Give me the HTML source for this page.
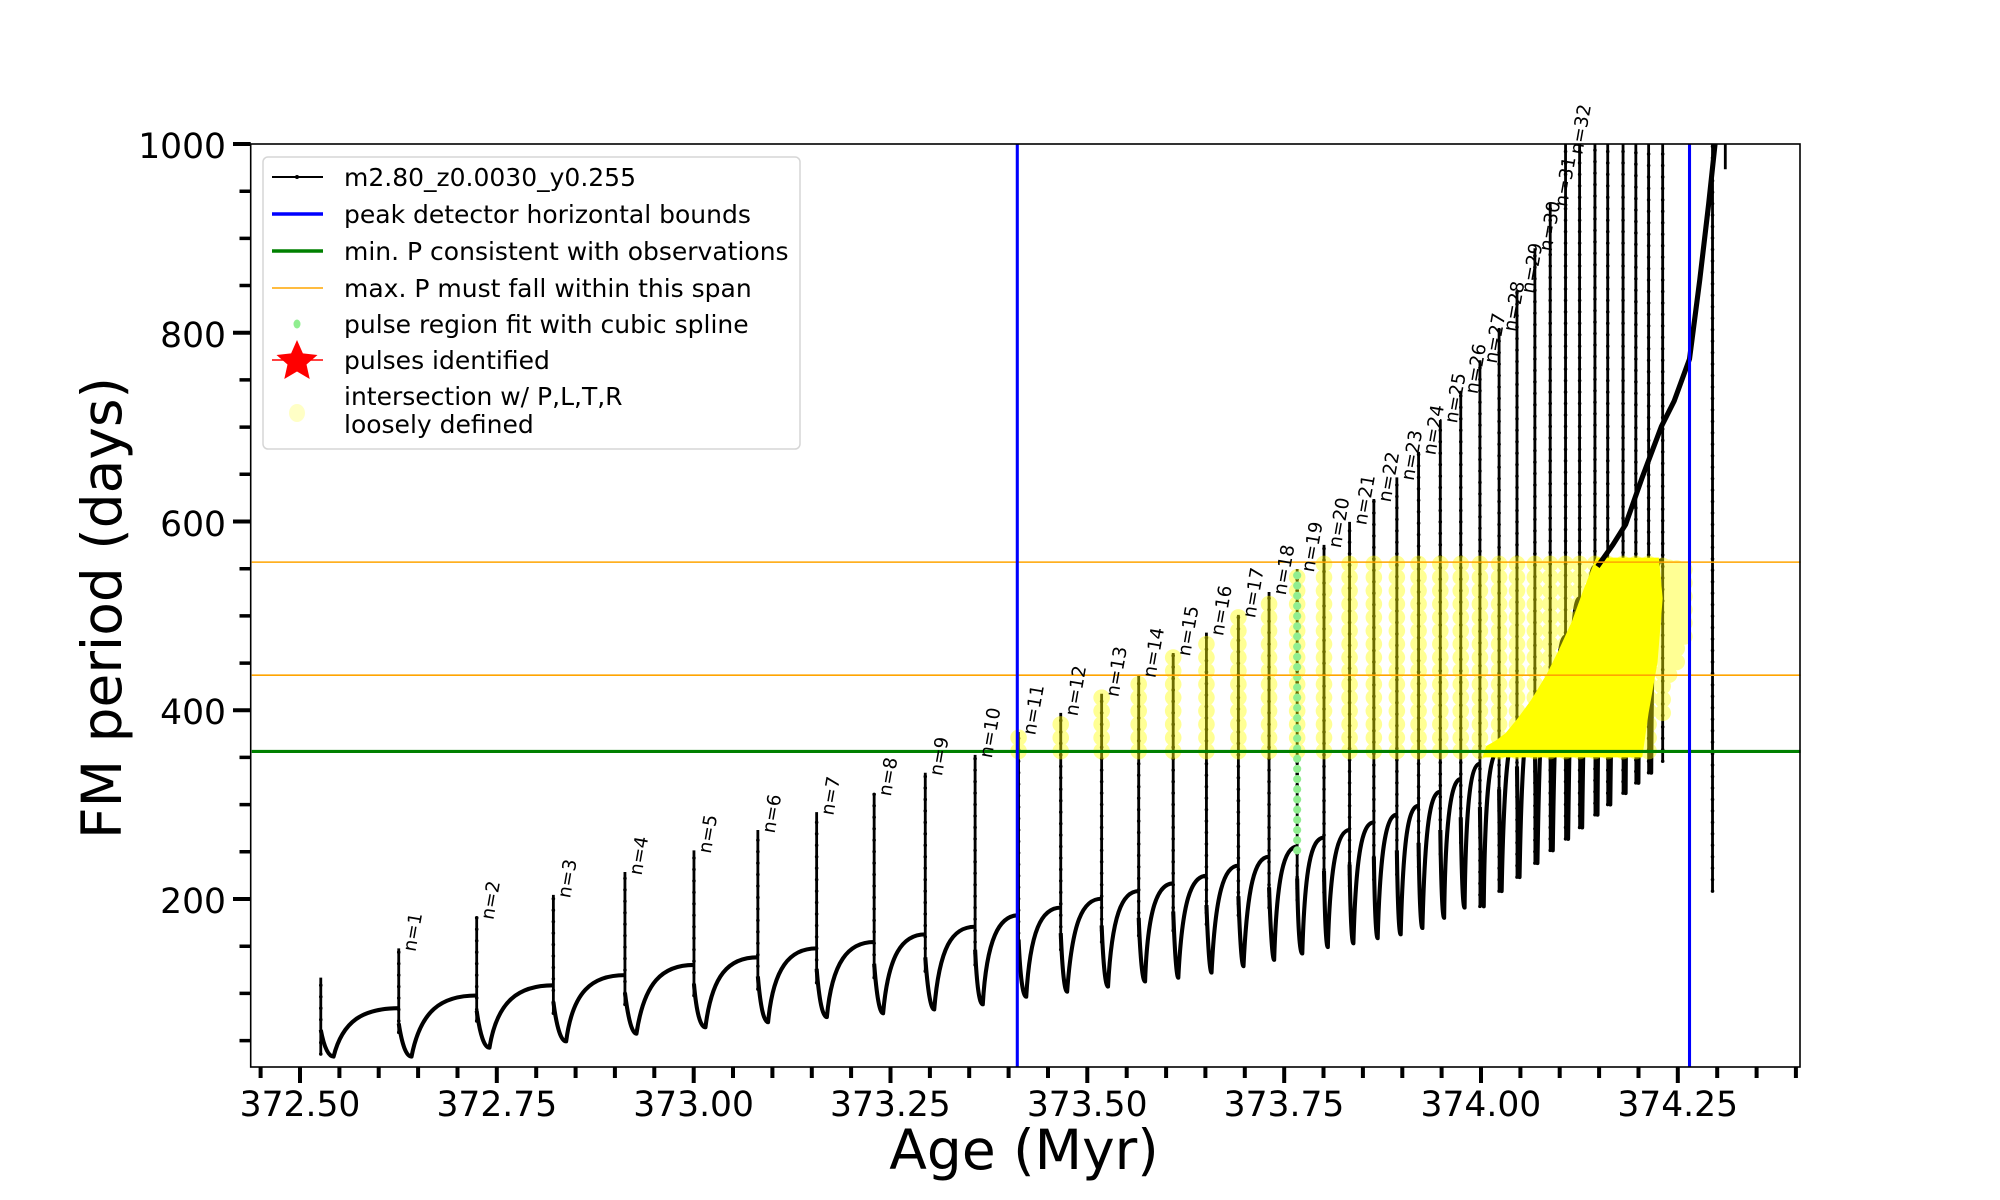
<!DOCTYPE html>
<html><head><meta charset="utf-8"><style>
html,body{margin:0;padding:0;background:#fff;}
svg{display:block;font-family:"DejaVu Sans","Liberation Sans",sans-serif;}
</style></head><body>
<svg width="2000" height="1200" viewBox="0 0 2000 1200" xmlns="http://www.w3.org/2000/svg">
<rect width="2000" height="1200" fill="#fff"/>
<g transform="scale(1.278 1.273)">
  <path fill="none" stroke="#000" stroke-width="3.2" stroke-linejoin="round" d="
M251,809 Q255,830 261,830 C268,802 284,792 312,792
M312,804 Q316,830 322,830 C329,794 345,782 373,782
M373,794 Q377,823 383,823 C389,786 406,774 433,774
M433,787 Q437,818 443,818 C448,779 463,766 489,766
M489,780 Q493,812 498,812 C504,772 518,758 543,758
M543,773 Q546,807 552,807 C557,766 570,752 593,752
M593,767 Q596,803 601,803 C605,760 618,745 639,745
M639,761 Q642,799 647,799 C651,755 664,740 684,740
M684,757 Q687,796 691,796 C695,750 706,734 724,734
M724,752 Q727,793 731,793 C735,744 745,728 763,728
M763,746 Q765,789 769,789 C772,737 782,719 797,719
M797,738 Q799,783 803,783 C806,731 815,713 830,713
M830,733 Q832,779 835,779 C839,724 847,706 862,706
M862,727 Q864,775 867,775 C870,719 878,700 891,700
M891,721 Q893,771 896,771 C898,713 906,694 918,694
M918,716 Q920,768 922,768 C925,708 932,688 944,688
M944,711 Q946,764 948,764 C951,701 958,680 969,680
M969,704 Q971,759 973,759 C976,695 982,673 993,673
M993,697 Q995,754 997,754 C999,687 1005,665 1015,665
M1015,690 Q1016,749 1019,749 C1021,681 1026,658 1036,658
M1036,684 Q1037,744 1039,744 C1041,675 1047,652 1056,652
M1056,679 Q1057,741 1059,741 C1061,670 1066,646 1075,646
M1075,673 Q1076,737 1078,737 C1080,664 1085,640 1093,640
M1093,668 Q1094,734 1096,734 C1098,658 1102,633 1110,633
M1110,662 Q1111,729 1113,729 C1115,649 1119,622 1127,622
M1127,652 Q1128,721 1130,721 C1131,639 1136,612 1143,612
M1143,642 Q1144,713 1146,713 C1147,628 1151,600 1158,600
M1158,634 Q1159,712 1161,712 C1162,617 1166,590 1173,590
M1173,620 Q1174,700 1175,700 C1177,599 1181,575 1187,575
M1187,602 Q1188,689 1189,689 C1191,577 1195,555 1201,555
M1201,581 Q1202,678 1203,678 C1205,552 1208,530 1213,530
M1213,557 Q1214,668 1215,668 C1217,527 1220,500 1225,500
M1225,534 Q1226,659 1227,659 C1229,502 1231,470 1236,470
M1236,510 Q1237,650 1238,650 C1240,485 1243,445 1248,445
M1248,493 Q1249,640 1250,640 C1251,468 1254,440 1258,440
M1258,477 Q1259,632 1260,632 C1262,454 1265,440 1270,440
M1270,463 Q1271,623 1272,623 C1273,441 1276,440 1280,440
M1280,450 Q1281,615 1282,615 C1283,440 1286,440 1290,440
M1290,440 Q1291,607 1292,607 C1293,440 1296,440 1301,440"/>
  <path fill="none" stroke="#000" stroke-width="2.2" d="
M251,828V768 M312,811V745 M373,802V720 M433,796V703 M489,789V685 M543,782V668 M593,777V652 M639,772V638 M684,768V623 M724,763V607 M763,758V593 M797,751V575 M830,746V560 M862,740V545 M891,735V530 M918,731V513 M944,726V497 M969,719V483 M993,713V465 M1015,707V447 M1036,701V428 M1056,696V410 M1075,691V392 M1093,687V375 M1110,681V355 M1127,671V330 M1143,662V307 M1158,712V283 M1173,700V258 M1187,689V228 M1201,678V195 M1213,668V160 M1225,659V113 M1236,650V113 M1248,640V113 M1258,632V113 M1270,623V113 M1280,615V113 M1290,607V113 M1301,598V113 M1340,700V113 M1350,133V113"/>
  <path fill="none" stroke="#000" stroke-width="2.8" stroke-linecap="round" stroke-dasharray="0 9" d="
M251,828V768 M312,811V745 M373,802V720 M433,796V703 M489,789V685 M543,782V668 M593,777V652 M639,772V638 M684,768V623 M724,763V607 M763,758V593 M797,751V575 M830,746V560 M862,740V545 M891,735V530 M918,731V513 M944,726V497 M969,719V483 M993,713V465 M1015,707V447 M1036,701V428 M1056,696V410 M1075,691V392 M1093,687V375 M1110,681V355 M1127,671V330 M1143,662V307 M1158,712V283 M1173,700V258 M1187,689V228 M1201,678V195 M1213,668V160 M1225,659V113 M1236,650V113 M1248,640V113 M1258,632V113 M1270,623V113 M1280,615V113 M1290,607V113 M1301,598V113 M1340,700V113"/>
  <path d="M797,590V575 M830,590V560 M862,590V545 M891,590V530 M918,590V513 M944,590V497 M969,590V483 M993,590V465 M1015,590V447 M1036,590V442 M1056,590V442 M1075,590V442 M1093,590V442 M1110,590V442 M1127,590V442 M1143,590V442 M1158,590V442 M1173,590V442 M1187,590V442 M1201,590V442 M1213,590V442 M1225,590V442 M1236,590V442 M1248,590V442 M1258,590V442 M1270,590V442 M1280,590V442 M1290,590V442 M1301,560V442 M1306,530V442 M1312,520V442 M1318,500V442" fill="none" stroke="#ffff00" stroke-opacity="0.42" stroke-width="13" stroke-linecap="round" stroke-dasharray="0 10.5"/>
  <polygon points="1160,595 1163,586 1170,582 1178,576 1187,565 1198,550 1210,530 1220,510 1230,488 1238,466 1245,448 1249,438 1298,438 1301,470 1297,520 1290,560 1285,595" fill="#ffff00"/>
  <path d="M1250,445 L1262,428 L1272,412 L1285,375 L1300,335 L1310,315 L1322,282 L1330,220 L1337,160 L1342,113" fill="none" stroke="#000" stroke-width="4"/>
  <path d="M1015,668V447" stroke="#90ee90" stroke-width="6.4" stroke-linecap="round" stroke-dasharray="0 8" fill="none"/>
  <line x1="197" y1="590.3" x2="1409" y2="590.3" stroke="#008000" stroke-width="2.4"/>
  <line x1="197" y1="441.6" x2="1409" y2="441.6" stroke="#ffa500" stroke-width="1.2"/>
  <line x1="197" y1="530.4" x2="1409" y2="530.4" stroke="#ffa500" stroke-width="1.2"/>
  <line x1="796" y1="113" x2="796" y2="838" stroke="#0000ff" stroke-width="2.4"/>
  <line x1="1322" y1="113" x2="1322" y2="838" stroke="#0000ff" stroke-width="2.4"/>
  <g font-size="14.5" fill="#000">
    <text transform="translate(325,748) rotate(-80)">n=1</text>
    <text transform="translate(386,723) rotate(-80)">n=2</text>
    <text transform="translate(446,706) rotate(-80)">n=3</text>
    <text transform="translate(502,688) rotate(-80)">n=4</text>
    <text transform="translate(556,671) rotate(-80)">n=5</text>
    <text transform="translate(606,655) rotate(-80)">n=6</text>
    <text transform="translate(652,641) rotate(-80)">n=7</text>
    <text transform="translate(697,626) rotate(-80)">n=8</text>
    <text transform="translate(737,610) rotate(-80)">n=9</text>
    <text transform="translate(776,596) rotate(-80)">n=10</text>
    <text transform="translate(810,578) rotate(-80)">n=11</text>
    <text transform="translate(843,563) rotate(-80)">n=12</text>
    <text transform="translate(875,548) rotate(-80)">n=13</text>
    <text transform="translate(904,533) rotate(-80)">n=14</text>
    <text transform="translate(931,516) rotate(-80)">n=15</text>
    <text transform="translate(957,500) rotate(-80)">n=16</text>
    <text transform="translate(982,486) rotate(-80)">n=17</text>
    <text transform="translate(1006,468) rotate(-80)">n=18</text>
    <text transform="translate(1028,450) rotate(-80)">n=19</text>
    <text transform="translate(1049,431) rotate(-80)">n=20</text>
    <text transform="translate(1069,413) rotate(-80)">n=21</text>
    <text transform="translate(1088,395) rotate(-80)">n=22</text>
    <text transform="translate(1106,378) rotate(-80)">n=23</text>
    <text transform="translate(1123,358) rotate(-80)">n=24</text>
    <text transform="translate(1140,333) rotate(-80)">n=25</text>
    <text transform="translate(1156,310) rotate(-80)">n=26</text>
    <text transform="translate(1171,286) rotate(-80)">n=27</text>
    <text transform="translate(1186,261) rotate(-80)">n=28</text>
    <text transform="translate(1200,231) rotate(-80)">n=29</text>
    <text transform="translate(1214,198) rotate(-80)">n=30</text>
    <text transform="translate(1226,163) rotate(-80)">n=31</text>
    <text transform="translate(1238,122) rotate(-80)">n=32</text>
  </g>
</g>
<rect x="250.7" y="144" width="1549.3" height="923" fill="none" stroke="#000" stroke-width="1.6"/>
<path stroke="#000" stroke-width="4" d="M233,899H250.7 M233,710.2H250.7 M233,521.5H250.7 M233,332.7H250.7 M233,144H250.7"/>
<path stroke="#000" stroke-width="3.5" d="M239.5,1040.6H250.7 M239.5,993.4H250.7 M239.5,946.2H250.7 M239.5,851.8H250.7 M239.5,804.6H250.7 M239.5,757.4H250.7 M239.5,663.1H250.7 M239.5,615.9H250.7 M239.5,568.7H250.7 M239.5,474.3H250.7 M239.5,427.1H250.7 M239.5,379.9H250.7 M239.5,285.5H250.7 M239.5,238.4H250.7 M239.5,191.2H250.7"/>
<path stroke="#000" stroke-width="4" d="M300,1067V1083 M496.8,1067V1083 M693.7,1067V1083 M890.5,1067V1083 M1087.3,1067V1083 M1284.2,1067V1083 M1481,1067V1083 M1677.8,1067V1083"/>
<path stroke="#000" stroke-width="4" d="M260.6,1067V1078 M339.4,1067V1078 M378.7,1067V1078 M418.1,1067V1078 M457.5,1067V1078 M536.2,1067V1078 M575.6,1067V1078 M614.9,1067V1078 M654.3,1067V1078 M733,1067V1078 M772.4,1067V1078 M811.8,1067V1078 M851.1,1067V1078 M929.9,1067V1078 M969.2,1067V1078 M1008.6,1067V1078 M1048,1067V1078 M1126.7,1067V1078 M1166.1,1067V1078 M1205.4,1067V1078 M1244.8,1067V1078 M1323.5,1067V1078 M1362.9,1067V1078 M1402.3,1067V1078 M1441.6,1067V1078 M1520.4,1067V1078 M1559.7,1067V1078 M1599.1,1067V1078 M1638.5,1067V1078 M1717.2,1067V1078 M1756.6,1067V1078 M1795.9,1067V1078"/>
<g font-size="34.5" fill="#000" text-anchor="end">
  <text x="226" y="158">1000</text>
  <text x="226" y="347">800</text>
  <text x="226" y="536">600</text>
  <text x="226" y="724">400</text>
  <text x="226" y="913">200</text>
</g>
<g font-size="34.5" fill="#000" text-anchor="middle">
  <text x="300" y="1116">372.50</text>
  <text x="496.8" y="1116">372.75</text>
  <text x="693.6" y="1116">373.00</text>
  <text x="890.4" y="1116">373.25</text>
  <text x="1087.2" y="1116">373.50</text>
  <text x="1284" y="1116">373.75</text>
  <text x="1480.9" y="1116">374.00</text>
  <text x="1677.7" y="1116">374.25</text>
</g>
<text x="1024" y="1169" font-size="55" text-anchor="middle">Age (Myr)</text>
<text transform="translate(121,608) rotate(-90)" font-size="55" text-anchor="middle">FM period (days)</text>
<rect x="263" y="157" width="537" height="292" rx="5" fill="#fff" fill-opacity="0.85" stroke="#d6d6d6" stroke-width="1.5"/>
<line x1="272" y1="177" x2="323" y2="177" stroke="#000" stroke-width="2"/>
<circle cx="297" cy="177" r="2" fill="#000"/>
<line x1="272" y1="214" x2="323" y2="214" stroke="#0000ff" stroke-width="3.5"/>
<line x1="272" y1="251" x2="323" y2="251" stroke="#008000" stroke-width="3.5"/>
<line x1="272" y1="288" x2="323" y2="288" stroke="#ffa500" stroke-width="1.5"/>
<ellipse cx="297" cy="324" rx="3.5" ry="4.5" fill="#90ee90"/>
<polygon points="297,340 302.9,353.4 317.5,355 306.5,364.5 309.7,379 297,371.5 284.3,379 287.5,364.5 276.5,355 291.1,353.4" fill="#ff0000"/>
<line x1="272" y1="360" x2="323" y2="360" stroke="#ff0000" stroke-width="1.5"/>
<ellipse cx="297" cy="413" rx="8" ry="9" fill="#ffffa0" fill-opacity="0.6"/>
<g font-size="25" fill="#000">
  <text x="344" y="186">m2.80_z0.0030_y0.255</text>
  <text x="344" y="223">peak detector horizontal bounds</text>
  <text x="344" y="260">min. P consistent with observations</text>
  <text x="344" y="297">max. P must fall within this span</text>
  <text x="344" y="333">pulse region fit with cubic spline</text>
  <text x="344" y="369">pulses identified</text>
  <text x="344" y="405">intersection w/ P,L,T,R</text>
  <text x="344" y="433">loosely defined</text>
</g>
</svg>
</body></html>
